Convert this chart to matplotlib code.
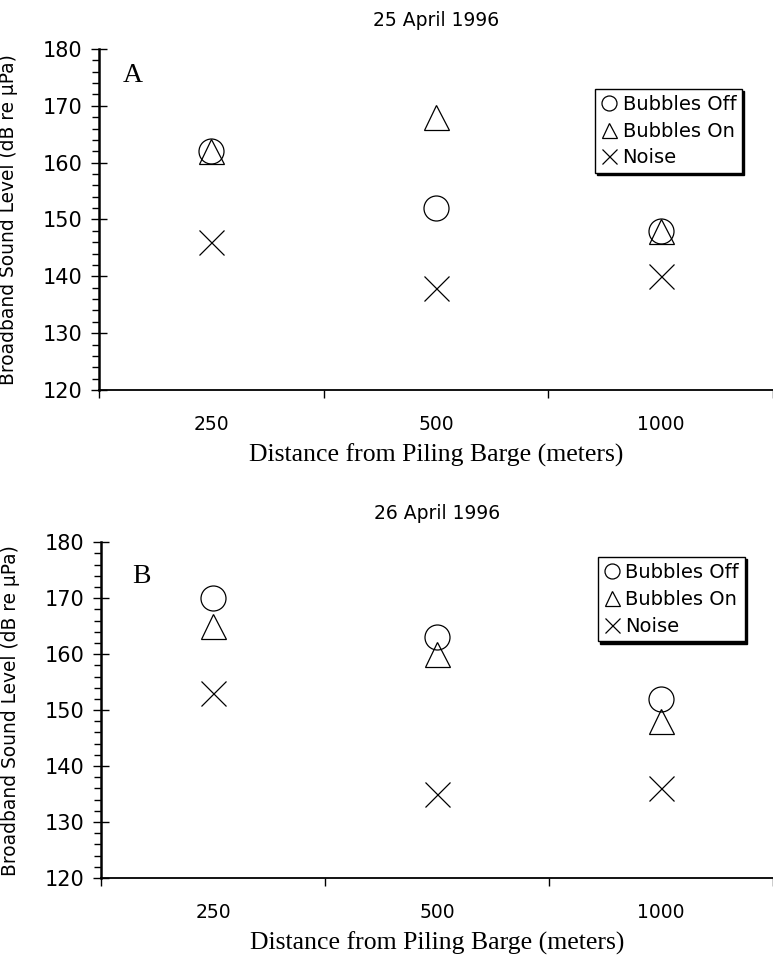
import numpy as np
import matplotlib
matplotlib.use('Agg')
import matplotlib.pyplot as plt
from matplotlib.ticker import MultipleLocator

distances = ['250', '500', '1000']
titles = ['25 April 1996', '26 April 1996']
panel_letters = ['A', 'B']

# broadband levels (dB re uPa)
off_a = [162, 152, 148]
on_a = [162, 168, 148]
noise_a = [146, 138, 140]

off_b = [170, 163, 152]
on_b = [165, 160, 148]
noise_b = [153, 135, 136]

series_names = ['Bubbles Off', 'Bubbles On', 'Noise']

plt.rcParams['font.family'] = ['DejaVu Sans']

fig = plt.figure(figsize=(7.73, 9.57), dpi=100)
ax_top = fig.add_axes([0.128, 0.5925, 0.872, 0.3563])
ax_bot = fig.add_axes([0.1307, 0.0825, 0.8693, 0.351])

def draw_panel(ax, off, on, noise, title, letter, letter_xy, leg_anchor):
    x = np.arange(len(distances)) + 0.5
    ms = 18
    ax.plot(x, off, linestyle='none', marker='o', ms=ms, mfc='none', mec='black', mew=0.9, label=series_names[0])
    ax.plot(x, on, linestyle='none', marker='^', ms=ms, mfc='none', mec='black', mew=0.9, label=series_names[1])
    ax.plot(x, noise, linestyle='none', marker='x', ms=ms, mec='black', mew=0.9, label=series_names[2])

    ax.set_xlim(0, 3)
    ax.set_ylim(120, 180)
    for s in ['top', 'right']:
        ax.spines[s].set_visible(False)
    ax.spines['left'].set_linewidth(1.8)
    ax.spines['bottom'].set_linewidth(1.3)

    ax.yaxis.set_major_locator(MultipleLocator(10))
    ax.yaxis.set_minor_locator(MultipleLocator(2))
    ax.tick_params(axis='y', which='major', direction='inout', length=12, width=1, pad=6, labelsize=15)
    ax.tick_params(axis='y', which='minor', direction='out', length=5, width=1)

    ax.set_xticks([0, 1, 2, 3])
    ax.set_xticklabels([])
    ax.set_xticks(x, minor=True)
    ax.set_xticklabels(distances, minor=True)
    ax.tick_params(axis='x', which='major', direction='out', length=6, width=1)
    ax.tick_params(axis='x', which='minor', length=0, pad=18, labelsize=13.5)

    ax.set_xlabel('Distance from Piling Barge (meters)', family='Liberation Serif', fontsize=18.5, labelpad=7)
    ax.set_ylabel('Broadband Sound Level (dB re \u00b5Pa)', fontsize=13.4)
    ax.yaxis.set_label_coords(-0.12, 0.5)

    ax.text(0.5, 1.085, title, transform=ax.transAxes, ha='center', va='center', fontsize=13.5)
    ax.text(letter_xy[0], letter_xy[1], letter, family='Liberation Serif', fontsize=20, ha='center', va='center')

    leg = ax.legend(loc='upper right', bbox_to_anchor=leg_anchor, fontsize=14, markerscale=0.6,
                    handlelength=0.8, handletextpad=0.3, labelspacing=0.4, borderpad=0.3,
                    borderaxespad=0, fancybox=False, edgecolor='black',
                    shadow={'color': 'black', 'alpha': 1, 'ox': 1.5, 'oy': -1.5})
    leg.get_frame().set_linewidth(1)

draw_panel(ax_top, off_a, on_a, noise_a, titles[0], panel_letters[0], (0.15, 175.4), (0.954, 0.883))
draw_panel(ax_bot, off_b, on_b, noise_b, titles[1], panel_letters[1], (0.18, 173.8), (0.958, 0.955))

fig.savefig('out.png', dpi=100)
